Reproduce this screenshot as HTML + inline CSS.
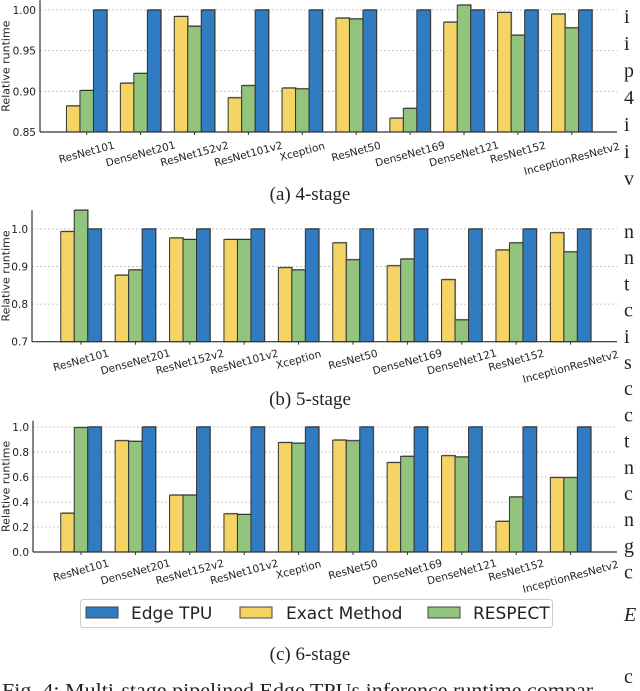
<!DOCTYPE html>
<html><head><meta charset="utf-8"><style>
html,body{margin:0;padding:0;background:#fff;}
svg{display:block;}
</style></head><body>
<svg id="fig" width="640" height="691" viewBox="0 0 640 691" xmlns="http://www.w3.org/2000/svg">
<g id="panels"></g>
<g>
  <rect x="80.5" y="599.5" width="472" height="28" rx="3" fill="#fff" stroke="#ccc"/>
  <rect x="86" y="607" width="32" height="11" fill="#2f7cc2" stroke="#444" stroke-width="1"/>
  <text x="131" y="619" font-family="DejaVu Sans, sans-serif" font-size="17" fill="#222">Edge TPU</text>
  <rect x="240" y="607" width="32" height="11" fill="#f3d464" stroke="#444" stroke-width="1"/>
  <text x="286" y="619" font-family="DejaVu Sans, sans-serif" font-size="17" fill="#222">Exact Method</text>
  <rect x="428" y="607" width="32" height="11" fill="#93c47d" stroke="#444" stroke-width="1"/>
  <text x="473" y="619" font-family="DejaVu Sans, sans-serif" font-size="17" fill="#222">RESPECT</text>
</g>
<text x="310" y="200" text-anchor="middle" font-family="Liberation Serif, serif" font-size="19" fill="#222">(a) 4-stage</text>
<text x="310" y="405" text-anchor="middle" font-family="Liberation Serif, serif" font-size="19" fill="#222">(b) 5-stage</text>
<text x="310" y="660" text-anchor="middle" font-family="Liberation Serif, serif" font-size="19" fill="#222">(c) 6-stage</text>
<text x="2" y="697" textLength="598" lengthAdjust="spacingAndGlyphs" font-family="Liberation Serif, serif" font-size="20" fill="#222">Fig. 4: Multi-stage pipelined Edge TPUs inference runtime compar-</text>
<g id="sidetext" font-family="Liberation Serif, serif" font-size="20" fill="#222"></g>
</svg>
<script>
const categories = ["ResNet101","DenseNet201","ResNet152v2","ResNet101v2","Xception","ResNet50","DenseNet169","DenseNet121","ResNet152","InceptionResNetv2"];
const edgeA = [1,1,1,1,1,1,1,1,1,1];
const exactA = [0.882,0.910,0.992,0.892,0.904,0.990,0.867,0.985,0.997,0.995];
const respectA = [0.901,0.922,0.980,0.907,0.903,0.989,0.879,1.006,0.969,0.978];
const ticksA = [0.85,0.90,0.95,1.00];
const tickLabelsA = ["0.85","0.90","0.95","1.00"];
const edgeB = [1,1,1,1,1,1,1,1,1,1];
const exactB = [0.993,0.877,0.976,0.972,0.897,0.963,0.902,0.865,0.944,0.990];
const respectB = [1.06,0.891,0.972,0.972,0.891,0.918,0.920,0.758,0.963,0.939];
const ticksB = [0.7,0.8,0.9,1.0];
const tickLabelsB = ["0.7","0.8","0.9","1.0"];
const edgeC = [1,1,1,1,1,1,1,1,1,1];
const exactC = [0.31,0.89,0.455,0.305,0.875,0.895,0.715,0.77,0.245,0.595];
const respectC = [0.995,0.885,0.455,0.30,0.87,0.89,0.765,0.76,0.44,0.595];
const ticksC = [0.0,0.2,0.4,0.6,0.8,1.0];
const tickLabelsC = ["0.0","0.2","0.4","0.6","0.8","1.0"];

const NS = "http://www.w3.org/2000/svg";
const root = document.getElementById("panels");
function mk(tag, attrs, parent){
  const e = document.createElementNS(NS, tag);
  for (const k in attrs) e.setAttribute(k, attrs[k]);
  (parent||root).appendChild(e);
  return e;
}
const colors = {exact:"#f3d464", respect:"#93c47d", edge:"#2f7cc2"};

function drawPanel(id, cfg, exact, respect, edge, ticks, tickLabels){
  const g = mk("g", {});
  
  
  const y = v => cfg.y0 - (v - cfg.vmin) * (cfg.y0 - cfg.y1) / (cfg.vmax - cfg.vmin);
  const x = i => cfg.x0 + i * cfg.step;
  const top = y(cfg.vtop);
  ticks.forEach((t, i) => {
    const gl = mk("line", {x1: cfg.left, x2: 617, y1: y(t), y2: y(t), stroke: "#bbb", "stroke-dasharray": "2,2", "stroke-width": 0.8}, g);
    
    
    const tl = mk("text", {x: cfg.left - 4, y: y(t) + 4, "text-anchor": "end", "font-family": "DejaVu Sans, sans-serif", "font-size": 10.5, fill: "#222"}, g);
    tl.textContent = tickLabels[i];
    
    
  });
  const w = 13.5;
  const series = [["exact", exact, -w], ["respect", respect, 0], ["edge", edge, w]];
  categories.forEach((c, i) => {
    series.forEach(([name, vals, off]) => {
      const v = Math.min(vals[i], cfg.vtop);
      const yt = y(v), yb = y(cfg.vmin);
      const sh = mk("rect", {x: x(i) + off - w/2 + 1, y: yt - 1, width: w, height: yb - yt + 1, fill: "#999"}, g);
      
      
      const b = mk("rect", {x: x(i) + off - w/2, y: yt, width: w, height: yb - yt, fill: colors[name], stroke: "#333", "stroke-width": 1}, g);
      
      
    });
    const tk = mk("line", {x1: x(i), x2: x(i), y1: y(cfg.vmin), y2: y(cfg.vmin) + 3, stroke: "#333"}, g);
    
    
    const wlen = c.length * 6.3;
    const cy = cfg.labTop + (wlen/2) * Math.sin(15*Math.PI/180) + 6;
    const lb = mk("text", {x: x(i), y: cy + 3.5, "text-anchor": "middle", "font-family": "DejaVu Sans, sans-serif", "font-size": 10.5, fill: "#222", transform: "rotate(-15 " + x(i) + " " + cy + ")"}, g);
    lb.textContent = c;
    
    
  });
  const ax = mk("line", {x1: cfg.left, x2: cfg.left, y1: top, y2: y(cfg.vmin), stroke: "#333", "stroke-width": 1.2}, g);
  
  
  const bx = mk("line", {x1: cfg.left, x2: 617, y1: y(cfg.vmin), y2: y(cfg.vmin), stroke: "#333", "stroke-width": 1.2}, g);
  
  
  const ym = (top + y(cfg.vmin)) / 2;
  const yl = mk("text", {x: 6, y: ym, "text-anchor": "middle", "dominant-baseline": "central", "font-family": "DejaVu Sans, sans-serif", "font-size": 11, fill: "#222", transform: "rotate(-90 6 " + ym + ")"}, g);
  yl.textContent = "Relative runtime";
  
  
}

drawPanel("a", {left: 40, x0: 86.7, step: 53.9, vmin: 0.85, vmax: 1.00, y0: 132, y1: 10, vtop: 1.012, labTop: 139}, exactA, respectA, edgeA, ticksA, tickLabelsA);
drawPanel("b", {left: 32, x0: 81, step: 54.4, vmin: 0.7, vmax: 1.0, y0: 341.7, y1: 229, vtop: 1.05, labTop: 347}, exactB, respectB, edgeB, ticksB, tickLabelsB);
drawPanel("c", {left: 33, x0: 81, step: 54.4, vmin: 0.0, vmax: 1.0, y0: 552, y1: 427, vtop: 1.05, labTop: 557}, exactC, respectC, edgeC, ticksC, tickLabelsC);

const side = document.getElementById("sidetext");
const lettersTop = ["i","i","p","4","i","i","v"];
const lettersMid = ["n","n","t","c","i","s","c","c","t","n","c","n","g","c"];
const placed = [];
lettersTop.forEach((ch, k) => placed.push([ch, 17 + 27*k, false]));
lettersMid.forEach((ch, k) => placed.push([ch, 232 + 26.2*k, false]));
placed.push(["E", 615, true]);
placed.push(["c", 677, false]);
placed.forEach(([ch, yy, it]) => {
  const t = mk("text", {x: 624, y: yy + 6, "font-style": it ? "italic" : "normal"}, side);
  t.textContent = ch;
  
  
});
</script>
</body></html>
